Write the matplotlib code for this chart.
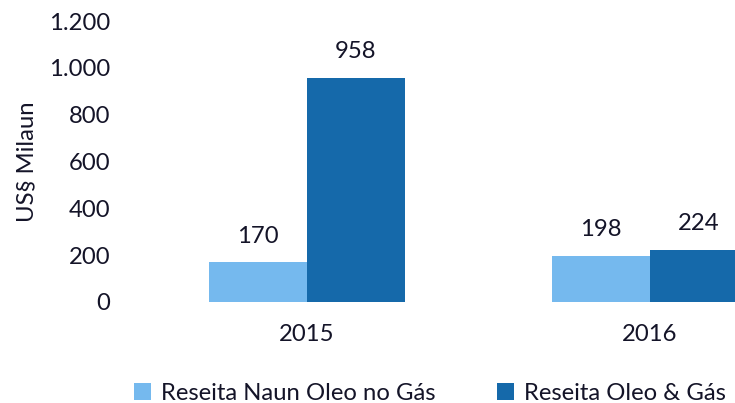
import matplotlib
matplotlib.use("Agg")
import matplotlib.pyplot as plt
import numpy as np

plt.rcParams['font.family'] = ['Lato', 'DejaVu Sans']

categories = ["2015", "2016"]
series_names = ["Reseita Naun Oleo no Gás", "Reseita Oleo & Gás"]
non_oil = [170, 198]
oil_gas = [958, 224]
yticks = [0, 200, 400, 600, 800, 1000, 1200]
ytick_labels = ["0", "200", "400", "600", "800", "1.000", "1.200"]

c_light = "#75B9EE"
c_dark = "#1569AA"
txt = "#141428"
fs = 17.2

fig = plt.figure(figsize=(7.35, 4.03), dpi=100)
W, H = 735, 403
left_px, right_px = 135.5, 735
top_px, bot_px = 21, 302
ax = fig.add_axes([left_px / W, (H - bot_px) / H, (right_px - left_px) / W, (bot_px - top_px) / H])

x = np.arange(len(categories))
w = 98 / 343
b1 = ax.bar(x - w / 2, non_oil, w, color=c_light, label=series_names[0])
b2 = ax.bar(x + w / 2, oil_gas, w, color=c_dark, label=series_names[1])

for bars in (b1, b2):
    for r in bars:
        ax.annotate(f"{int(r.get_height())}", (r.get_x() + r.get_width() / 2, r.get_height()),
                    xytext=(0, 18.5), textcoords="offset points", ha="center", va="center",
                    fontsize=fs, color=txt)

ax.set_xlim(-0.5, (735 - 307) / 343)
ax.set_ylim(0, 1200)
ax.set_yticks(yticks)
ax.set_yticklabels(ytick_labels)
ax.set_xticks(x)
ax.set_xticklabels(categories)
ax.tick_params(axis="both", length=0, labelsize=fs, colors=txt)
ax.tick_params(axis="y", pad=18)
ax.tick_params(axis="x", pad=16)
for s in ax.spines.values():
    s.set_visible(False)
ax.set_ylabel("US§ Milaun", fontsize=fs, color=txt)
ax.yaxis.set_label_coords(-(135.5 - 27) / (735 - 135.5), 0.5)
ax.yaxis.label.set_va("center")

fig.legend(handles=[b1, b2], labels=series_names, loc="center", bbox_to_anchor=(430 / W, 1 - 393 / H),
           ncol=2, frameon=False, fontsize=fs, handlelength=0.7, handleheight=0.7,
           handletextpad=0.4, columnspacing=2.6, labelcolor=txt)

fig.savefig("out.png", dpi=100)
